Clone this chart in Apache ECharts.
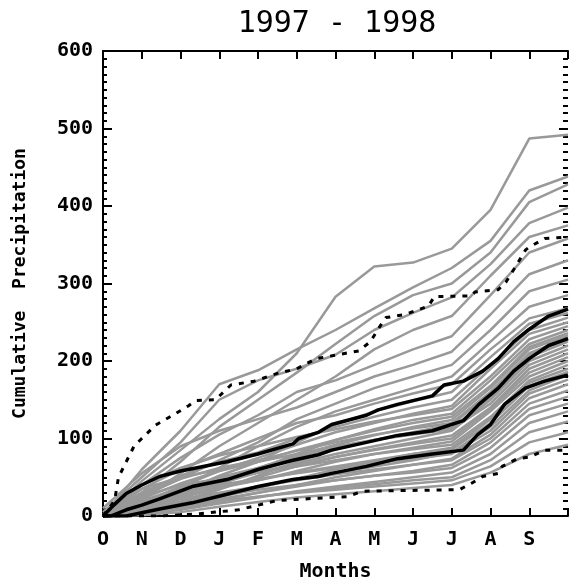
<!DOCTYPE html>
<html>
<head>
<meta charset="utf-8">
<script src="https://cdn.jsdelivr.net/npm/echarts@6/dist/echarts.min.js"></script>
<style>
html,body{margin:0;padding:0;background:#fff;}
#chart{width:571px;height:587px;}
</style>
</head>
<body>
<div id="chart"></div>
<script>
// Month tick labels (Oct 1997 .. Sep 1998); x = months since Oct 1
var MONTH_LABELS = ['O','N','D','J','F','M','A','M','J','J','A','S',''];
var MONTH_X = [0,1,2,3,4,5,6,7,8,9,10,11,12];
var Y_TICKS = [0,100,200,300,400,500,600];

// Individual years: cumulative precipitation at the start of each month (gray)
var GRAY_YEARS = [
  [0,45,85,125,160,210,283,322,327,345,395,487,492],
  [0,60,110,170,188,215,240,268,295,320,355,420,438],
  [0,30,70,115,150,185,222,258,285,300,340,405,428],
  [5,50,95,150,175,190,208,240,262,282,325,378,398],
  [0,20,55,90,120,150,180,215,240,258,310,360,375],
  [0,40,75,105,130,160,175,195,215,232,285,340,358],
  [10,55,90,110,125,140,160,180,195,212,260,312,330],
  [0,25,48,72,95,125,145,165,180,195,240,290,305],
  [0,15,35,62,90,115,135,150,165,180,225,270,285],
  [0,35,60,80,100,120,130,145,158,170,215,255,268],
  [0,10,30,52,70,95,118,135,148,160,205,248,262],
  [2,30,52,70,82,100,115,128,140,150,195,240,256],
  [0,18,38,58,75,92,108,120,132,142,190,235,250],
  [0,40,62,78,90,102,112,122,130,138,180,228,245],
  [0,8,22,40,60,80,98,112,124,132,175,222,240],
  [0,22,42,58,70,85,98,110,120,128,168,218,236],
  [0,12,30,45,62,78,92,104,115,124,165,215,233],
  [0,28,48,62,72,84,95,105,113,120,160,210,230],
  [0,5,18,34,52,70,86,98,108,118,158,208,228],
  [0,20,35,50,62,76,88,98,106,114,152,205,225],
  [0,15,28,42,56,68,80,90,100,110,150,200,220],
  [0,35,50,60,70,80,90,98,105,112,145,195,215],
  [0,6,18,36,50,64,76,86,95,104,140,190,210],
  [0,18,32,44,56,66,76,85,93,100,138,185,205],
  [0,10,24,36,46,58,70,80,88,96,135,180,200],
  [0,25,40,48,56,64,72,80,86,92,128,175,195],
  [0,4,12,24,36,48,60,70,80,88,125,172,190],
  [0,14,26,38,46,56,64,72,80,86,120,168,186],
  [0,8,18,28,38,48,56,64,72,82,115,162,182],
  [0,20,32,40,48,55,62,68,74,80,110,158,176],
  [0,3,10,20,30,40,50,58,66,74,105,152,170],
  [0,12,22,30,38,46,54,60,66,72,100,145,162],
  [0,6,14,22,30,38,46,52,58,66,95,138,154],
  [0,10,18,26,34,40,46,52,56,62,88,130,145],
  [0,2,8,16,24,32,38,44,50,56,80,120,135],
  [0,5,10,18,25,31,36,41,46,50,72,108,122],
  [0,8,14,20,25,30,34,38,42,46,64,95,108],
  [0,1,5,12,18,24,28,32,36,40,56,80,92]
];

// Black solid curves [month, value]
var UPPER_BLACK = [[0,0],[0.3,15],[0.6,29],[1,40],[1.46,51],[2,58],[2.3,61],[3,68],[3.2,70],[4,80],[4.9,93],[5.05,100],[5.56,108],[5.9,118],[6.8,130],[7.1,137],[7.6,144],[8.5,155],[8.8,169],[9.3,174],[9.8,187],[10.2,203],[10.6,225],[11,241],[11.5,258],[12,267]];
var MIDDLE_BLACK = [[0,0],[0.2,0],[0.6,8],[1,14],[1.46,22],[2.3,38],[3.2,47],[4,60],[4.9,72],[5.56,79],[5.9,85],[6.8,95],[7.6,104],[8.5,110],[9.3,123],[9.7,144],[10.2,165],[10.6,187],[11,203],[11.5,220],[12,229]];
var LOWER_BLACK = [[0,0],[0.6,0],[1.46,9],[2.3,17],[3.2,28],[4,38],[4.9,47],[5.56,51],[5.9,55],[6.8,64],[7.6,74],[8.5,80],[9.3,85],[9.67,105],[10,118],[10.36,144],[10.9,165],[11.4,174],[12,182]];

// Dotted envelope curves [month, value]
var UPPER_DOTTED = [[0,0],[0.3,20],[0.4,50],[0.6,70],[0.8,90],[1,100],[1.35,117],[1.8,130],[2.2,142],[2.4,149],[2.9,150],[3.3,169],[3.9,174],[4.5,184],[5,190],[5.5,203],[6.6,213],[6.9,225],[7.15,245],[7.3,256],[7.8,260],[8.4,271],[8.55,283],[9.5,284],[9.6,289],[10.2,292],[10.4,302],[10.6,318],[10.9,343],[11,347],[11.4,358],[12,360]];
var LOWER_DOTTED = [[0,0],[1.5,0],[2.5,3],[3.5,8],[4,14],[4.5,20],[5.2,22],[6.3,25],[6.7,32],[9.2,34],[9.5,42],[9.8,51],[10.2,55],[10.3,64],[10.7,74],[11,76],[11.4,85],[12,85]];

var MONO = '"DejaVu Sans Mono", "Liberation Mono", monospace';

var series = [];
GRAY_YEARS.forEach(function (vals) {
  series.push({
    type: 'line', silent: true, showSymbol: false, animation: false,
    data: MONTH_X.map(function (m, i) { return [m, vals[i]]; }),
    lineStyle: { color: '#999999', width: 2.5 }, z: 2
  });
});
[UPPER_BLACK, MIDDLE_BLACK, LOWER_BLACK].forEach(function (d) {
  series.push({
    type: 'line', silent: true, showSymbol: false, animation: false,
    data: d, lineStyle: { color: '#000', width: 3.5 }, z: 4
  });
});
[UPPER_DOTTED, LOWER_DOTTED].forEach(function (d) {
  series.push({
    type: 'line', silent: true, showSymbol: false, animation: false,
    data: d, lineStyle: { color: '#000', width: 3, type: [5, 7] }, z: 5
  });
});

var axisLineStyle = { show: true, onZero: false, lineStyle: { color: '#000', width: 2 } };
var majorTick = { show: true, inside: true, length: 8, lineStyle: { color: '#000', width: 2 } };

var option = {
  backgroundColor: '#fff',
  animation: false,
  title: {
    text: '1997 - 1998', left: 337, textAlign: 'center', top: 9, padding: 0,
    textStyle: { fontFamily: MONO, fontSize: 30, fontWeight: 'normal', color: '#000' }
  },
  grid: { left: 103, top: 51, width: 470, bottom: 68 },
  xAxis: [{
    type: 'value', min: 0, max: 12, interval: 1, position: 'bottom',
    axisLine: axisLineStyle, axisTick: majorTick,
    axisLabel: {
      margin: 14, color: '#000', fontFamily: MONO, fontSize: 20, fontWeight: 'bold',
      formatter: function (v) { return MONTH_LABELS[Math.round(v)]; }
    },
    splitLine: { show: false },
    name: 'Months', nameLocation: 'middle', nameGap: 46,
    nameTextStyle: { color: '#000', fontFamily: MONO, fontSize: 20, fontWeight: 'bold' }
  }, {
    type: 'value', min: 0, max: 12, interval: 1, position: 'top',
    axisLine: axisLineStyle, axisTick: majorTick,
    axisLabel: { show: false }, splitLine: { show: false }
  }],
  yAxis: [{
    type: 'value', min: Y_TICKS[0], max: Y_TICKS[Y_TICKS.length - 1], interval: 100, position: 'left',
    axisLine: axisLineStyle,
    axisTick: { show: true, inside: true, length: 9, lineStyle: { color: '#000', width: 2 } },
    minorTick: { show: true, splitNumber: 10, length: 4, lineStyle: { color: '#000', width: 2 } },
    axisLabel: { margin: 10, color: '#000', fontFamily: MONO, fontSize: 20, fontWeight: 'bold' },
    splitLine: { show: false }, minorSplitLine: { show: false },
    name: 'Cumulative  Precipitation', nameLocation: 'middle', nameGap: 74, nameRotate: 90,
    nameTextStyle: { color: '#000', fontFamily: MONO, fontSize: 18, fontWeight: 'bold' }
  }, {
    type: 'value', min: Y_TICKS[0], max: Y_TICKS[Y_TICKS.length - 1], interval: 100, position: 'right',
    axisLine: { show: false, onZero: false },
    axisTick: { show: true, inside: true, length: 9, lineStyle: { color: '#000', width: 2 } },
    minorTick: { show: true, splitNumber: 10, length: 5, lineStyle: { color: '#000', width: 2 } },
    axisLabel: { show: false }, splitLine: { show: false }
  }],
  series: series
};

var chart = echarts.init(document.getElementById('chart'), null, { renderer: 'canvas' });
chart.setOption(option);
</script>
</body>
</html>
